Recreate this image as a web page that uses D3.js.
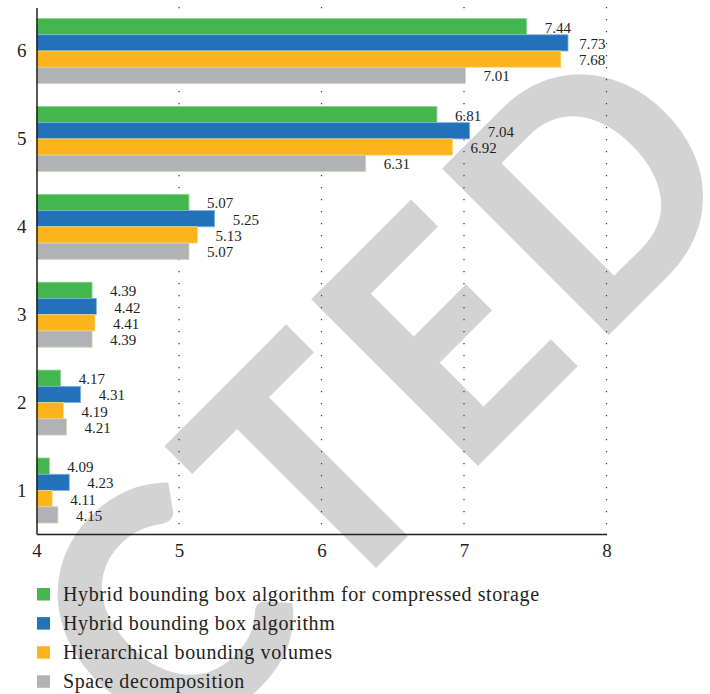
<!DOCTYPE html>
<html>
<head>
<meta charset="utf-8">
<script src="https://cdn.jsdelivr.net/npm/d3@7"></script>
<style>
  html, body { margin: 0; padding: 0; background: #fff; }
  svg { display: block; }
</style>
</head>
<body>
<div id="chart"></div>
<script>
// Categories (top to bottom) and one value array per method
const categories = ["6", "5", "4", "3", "2", "1"];
const seriesNames = [
  "Hybrid bounding box algorithm for compressed storage",
  "Hybrid bounding box algorithm",
  "Hierarchical bounding volumes",
  "Space decomposition"
];
const hybridCompressed = [7.44, 6.81, 5.07, 4.39, 4.17, 4.09];
const hybrid           = [7.73, 7.04, 5.25, 4.42, 4.31, 4.23];
const hierarchical     = [7.68, 6.92, 5.13, 4.41, 4.19, 4.11];
const spaceDecomp      = [7.01, 6.31, 5.07, 4.39, 4.21, 4.15];
const xTicks = [4, 5, 6, 7, 8];

const colors = ["#44b64f", "#2372b9", "#fcb41c", "#b1b2b5"];
const strokes = ["#8fd894", "#7fb3e0", "#fdd77f", "#d9d0ac"];
const seriesValues = [hybridCompressed, hybrid, hierarchical, spaceDecomp];

const W = 710, H = 694;
const svg = d3.select("#chart").append("svg")
  .attr("width", W).attr("height", H)
  .style("background", "#fff");

// ---- Diagonal "RETRACTED" stamp, drawn first so the chart sits above it ----
// Every letter is its own text element; its ink box is measured on a canvas
// and fitted to a left edge and width along the rotated baseline.
const stampFont = { family: "Lato", weight: 900, size: 325 };
const stampLetters = [
  { ch: "R", left: -1380, width: 200 },
  { ch: "E", left: -1150, width: 148 },
  { ch: "T", left: -975,  width: 178 },
  { ch: "R", left: -770,  width: 200 },
  { ch: "A", left: -655,  width: 212 },
  { ch: "C", left: -418,  width: 196 },
  { ch: "T", left: -208,  width: 178 },
  { ch: "E", left: 0,     width: 148 },
  { ch: "D", left: 185,   width: 204 }
];
const ctx = document.createElement("canvas").getContext("2d");
ctx.font = `${stampFont.weight} ${stampFont.size}px ${stampFont.family}`;
const stamp = svg.append("g")
  .attr("transform", "translate(475,469) rotate(-45)");
stampLetters.forEach(L => {
  const m = ctx.measureText(L.ch);
  const inkL = m.actualBoundingBoxLeft, inkW = m.actualBoundingBoxLeft + m.actualBoundingBoxRight;
  const sx = L.width / inkW;
  stamp.append("text")
    .attr("transform", `translate(${L.left + inkL * sx},0) scale(${sx},1)`)
    .attr("font-family", stampFont.family)
    .attr("font-weight", stampFont.weight)
    .attr("font-size", stampFont.size)
    .attr("fill", "#d3d3d3")
    .text(L.ch);
});

const x = d3.scaleLinear().domain([4, 8]).range([36.5, 606.5]);
const y = d3.scaleBand().domain(categories).range([7.5, 534])
  .paddingInner(0.26).paddingOuter(0.125);
const ySub = d3.scaleBand().domain(d3.range(seriesNames.length))
  .range([0, y.bandwidth()]);

const serif = "'Liberation Serif', 'Times New Roman', serif";

// Dotted vertical grid lines
svg.append("g").selectAll("line")
  .data(xTicks.slice(1))
  .join("line")
  .attr("x1", d => x(d)).attr("x2", d => x(d))
  .attr("y1", 7).attr("y2", 534)
  .attr("stroke", "#333")
  .attr("stroke-width", 1.2)
  .attr("stroke-dasharray", "1.2,10.8");

// Bars
const rows = categories.map((c, i) => ({
  cat: c,
  vals: seriesValues.map((arr, s) => ({ s, v: arr[i] }))
}));

const groups = svg.append("g").selectAll("g")
  .data(rows).join("g")
  .attr("transform", d => `translate(0,${y(d.cat)})`);

groups.selectAll("rect")
  .data(d => d.vals)
  .join("rect")
  .attr("x", x(4))
  .attr("y", d => ySub(d.s))
  .attr("width", d => x(d.v) - x(4))
  .attr("height", ySub.bandwidth())
  .attr("fill", d => colors[d.s])
  .attr("stroke", d => strokes[d.s])
  .attr("stroke-width", 0.8);

// Value labels, kept inside the plot's right edge
groups.selectAll("text")
  .data(d => d.vals)
  .join("text")
  .attr("font-family", serif)
  .attr("font-size", 15)
  .attr("fill", "#231f20")
  .attr("dominant-baseline", "central")
  .attr("y", d => ySub(d.s) + ySub.bandwidth() / 2 + 1)
  .text(d => d.v.toFixed(2))
  .attr("x", function (d) {
    const w = this.getComputedTextLength();
    return Math.min(x(d.v) + 18, x(8) - w - 1);
  });

// Axes
const xAxis = d3.axisBottom(x).tickValues(xTicks).tickSize(0).tickPadding(10)
  .tickFormat(d3.format("d"));
const gx = svg.append("g").attr("transform", `translate(0,534)`).call(xAxis);
gx.select(".domain").attr("stroke", "#231f20").attr("stroke-width", 1.5);
gx.selectAll("text").attr("font-family", serif).attr("font-size", 19).attr("fill", "#231f20");

const yAxis = d3.axisLeft(y).tickSize(0).tickPadding(10);
const gy = svg.append("g").attr("transform", `translate(${x(4)},0)`).call(yAxis);
gy.select(".domain").attr("stroke", "#231f20").attr("stroke-width", 1.5);
gy.selectAll("text").attr("font-family", serif).attr("font-size", 19).attr("fill", "#231f20");

// Legend
const legend = svg.append("g").attr("transform", "translate(37,588)");
const li = legend.selectAll("g").data(seriesNames).join("g")
  .attr("transform", (d, i) => `translate(0,${i * 29.1})`);
li.append("rect")
  .attr("x", 0).attr("y", 0).attr("width", 13).attr("height", 12.5)
  .attr("fill", (d, i) => colors[i]);
li.append("text")
  .attr("x", 26).attr("y", 12.5)
  .attr("font-family", serif).attr("font-size", 20)
  .attr("letter-spacing", 0.6)
  .attr("fill", "#231f20")
  .text(d => d);
</script>
</body>
</html>
